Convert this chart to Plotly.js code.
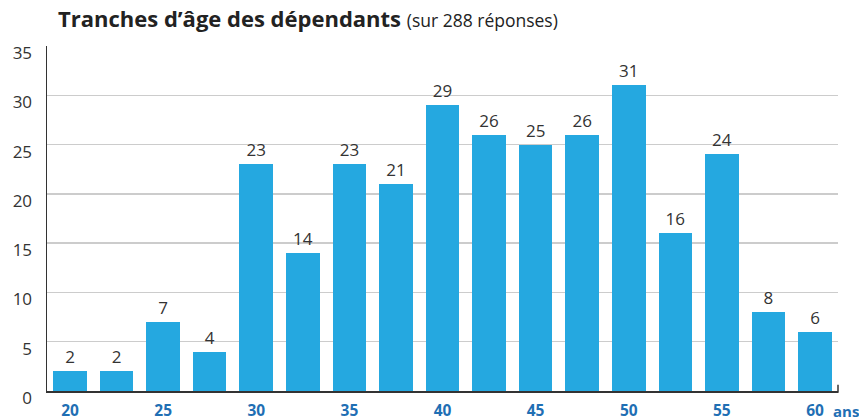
<!DOCTYPE html>
<html>
<head>
<meta charset="utf-8">
<script src="https://cdn.plot.ly/plotly-3.0.1.min.js"></script>
<style>html,body{margin:0;padding:0;background:#fff;}#chart{width:859px;height:420px;}</style>
</head>
<body>
<div id="chart"></div>
<script>
const ages = [20, 22.5, 25, 27.5, 30, 32.5, 35, 37.5, 40, 42.5, 45, 47.5, 50, 52.5, 55, 57.5, 60];
const counts = [2, 2, 7, 4, 23, 14, 23, 21, 29, 26, 25, 26, 31, 16, 24, 8, 6];
const xTickVals = [20, 25, 30, 35, 40, 45, 50, 55, 60];
const xTickText = ['20', '25', '30', '35', '40', '45', '50', '55', '60'];
const yTickVals = [0, 5, 10, 15, 20, 25, 30, 35];
const titleBold = 'Tranches d’âge des dépendants';
const titleRest = '(sur 288 réponses)';
const unitLabel = 'ans';

const font = 'Open Sans, Noto Sans, sans-serif';
const trace = {
  type: 'bar',
  x: ages,
  y: counts,
  width: 1.8,
  marker: {color: '#25a8e0'},
  text: counts.map(String),
  textposition: 'outside',
  cliponaxis: false,
  textfont: {family: font, size: 17, color: '#333333'},
  hoverinfo: 'none'
};
const layout = {
  width: 859, height: 420,
  margin: {l: 47, r: 21, t: 46, b: 28.5},
  paper_bgcolor: '#ffffff', plot_bgcolor: '#ffffff',
  showlegend: false,
  bargap: 0,
  title: {
    text: '<b>' + titleBold + '</b> <span style="font-size:17.5px">' + titleRest + '</span>',
    x: 58/859, xref: 'container', xanchor: 'left',
    y: 1 - 19/420, yref: 'container', yanchor: 'middle',
    font: {family: font, size: 22, color: '#222222'}
  },
  xaxis: {
    range: [18.765, 61.235],
    tickvals: xTickVals, ticktext: xTickText,
    tickfont: {family: font, size: 15.5, color: '#1f6fb4', weight: 'bold'},
    ticklabelstandoff: 5,
    showgrid: false, zeroline: false,
    showline: true, linecolor: '#333333', linewidth: 1.5,
    ticks: '', ticklen: 0, fixedrange: true
  },
  yaxis: {
    range: [0, 35],
    tickvals: yTickVals,
    tickfont: {family: font, size: 17, color: '#333333'},
    ticklabelshift: 7,
    showgrid: true, gridcolor: '#cccccc', gridwidth: 1.5,
    zeroline: false,
    showline: true, linecolor: '#333333', linewidth: 1.5,
    ticks: 'outside', ticklen: 10, tickcolor: 'rgba(0,0,0,0)', fixedrange: true
  },
  annotations: [{
    text: '<b>' + unitLabel + '</b>', xref: 'paper', yref: 'paper', x: (831 - 47) / 791, y: 0,
    xanchor: 'left', yanchor: 'top', yshift: -8,
    showarrow: false,
    font: {family: font, size: 15, color: '#1f6fb4'}
  }],
  shapes: [{
    type: 'line', xref: 'paper', yref: 'paper', x0: 1, x1: 1, y0: -0.005, y1: 0.018,
    line: {color: '#333333', width: 1.5}
  }]
};
Plotly.newPlot('chart', [trace], layout, {displayModeBar: false, staticPlot: true});
</script>
</body>
</html>
